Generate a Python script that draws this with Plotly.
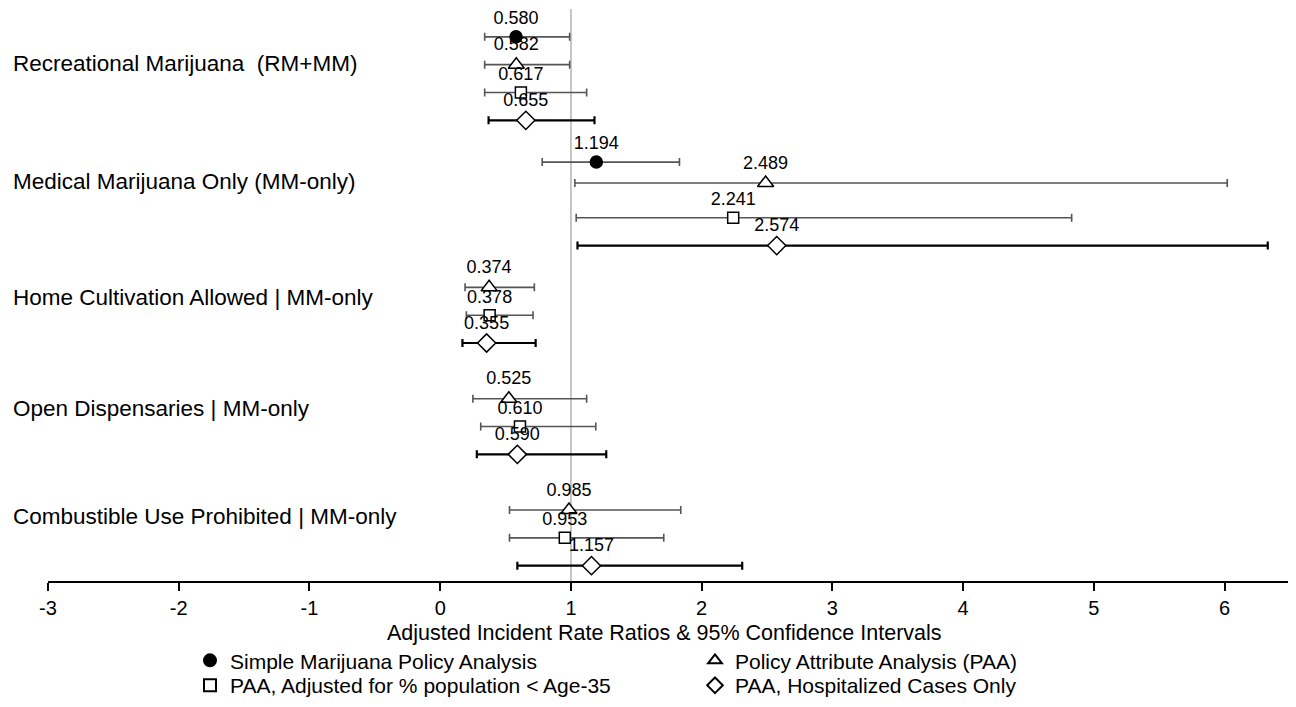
import plotly.graph_objects as go

# ---------------- data ----------------
categories = [
    "Recreational Marijuana  (RM+MM)",
    "Medical Marijuana Only (MM-only)",
    "Home Cultivation Allowed | MM-only",
    "Open Dispensaries | MM-only",
    "Combustible Use Prohibited | MM-only",
]
series_names = [
    "Simple Marijuana Policy Analysis",
    "Policy Attribute Analysis (PAA)",
    "PAA, Adjusted for % population < Age-35",
    "PAA, Hospitalized Cases Only",
]

# Simple Marijuana Policy Analysis (only first two categories)
simple_est = [0.580, 1.194]
simple_lo = [0.34, 0.78]
simple_hi = [0.99, 1.83]

# Policy Attribute Analysis (PAA)
paa_est = [0.582, 2.489, 0.374, 0.525, 0.985]
paa_lo = [0.34, 1.03, 0.19, 0.25, 0.53]
paa_hi = [0.99, 6.02, 0.72, 1.12, 1.84]

# PAA, adjusted for % population < Age-35
age_est = [0.617, 2.241, 0.378, 0.610, 0.953]
age_lo = [0.34, 1.04, 0.20, 0.31, 0.53]
age_hi = [1.12, 4.83, 0.71, 1.19, 1.71]

# PAA, hospitalized cases only
hosp_est = [0.655, 2.574, 0.355, 0.590, 1.157]
hosp_lo = [0.37, 1.05, 0.17, 0.28, 0.59]
hosp_hi = [1.18, 6.33, 0.73, 1.27, 2.31]

x_ticks = [-3, -2, -1, 0, 1, 2, 3, 4, 5, 6]
x_tick_labels = ["-3", "-2", "-1", "0", "1", "2", "3", "4", "5", "6"]

# ---------------- layout of rows (vertical slots, top -> bottom) ----------------
simple_rows = [0, 4.5]
paa_rows = [1, 5.25, 9, 13, 17]
age_rows = [2, 6.5, 10, 14, 18]
hosp_rows = [3, 7.5, 11, 15, 19]
category_rows = [0.95, 5.2, 9.35, 13.35, 17.25]

FONT = "Liberation Sans, Arial, Helvetica, sans-serif"

# the page body has an 8px margin, so the figure is placed at (8, 8)
OFF = 8
W, H = 1296 - OFF, 707 - OFF
ML = 48 - OFF
MT = 9 - OFF
MR = W - (1290 - OFF)
MB = H - (583 - OFF)
PW, PH = W - ML - MR, H - MT - MB


def px_x(p):  # page pixel -> paper fraction
    return (p - OFF - ML) / PW


def px_y(p):
    return (H - MB - (p - OFF)) / PH


fig = go.Figure()


def add_series(est, lo, hi, rows, name, symbol, size, fill, bar_color, bar_w, legend):
    fig.add_trace(go.Scatter(
        x=est, y=rows, mode="markers+text", name=name,
        text=[f"{v:.3f}" for v in est], textposition="top center",
        textfont=dict(family=FONT, size=18, color="black"),
        marker=dict(symbol=symbol, size=size, color=fill,
                    line=dict(color="black", width=1.5)),
        error_x=dict(type="data", symmetric=False,
                     array=[h - e for h, e in zip(hi, est)],
                     arrayminus=[e - l for e, l in zip(est, lo)],
                     color=bar_color, thickness=bar_w, width=4),
        legend=legend, cliponaxis=False,
    ))


add_series(simple_est, simple_lo, simple_hi, simple_rows, series_names[0],
           "circle", 12, "black", "#555555", 1.6, "legend")
add_series(paa_est, paa_lo, paa_hi, paa_rows, series_names[1],
           "triangle-up", 14, "white", "#555555", 1.6, "legend")
add_series(age_est, age_lo, age_hi, age_rows, series_names[2],
           "square", 11, "white", "#555555", 1.6, "legend2")
add_series(hosp_est, hosp_lo, hosp_hi, hosp_rows, series_names[3],
           "diamond", 14, "white", "black", 2.2, "legend2")

# reference line at IRR = 1
fig.add_shape(type="line", xref="x", yref="paper", x0=1, x1=1, y0=0, y1=1,
              line=dict(color="#b3b3b3", width=1.5), layer="below")

annotations = []
for cat, r in zip(categories, category_rows):
    annotations.append(dict(
        text=cat, xref="paper", yref="y", x=px_x(11), y=r,
        xanchor="left", yanchor="middle", showarrow=False,
        font=dict(family=FONT, size=22.5, color="black")))
annotations.append(dict(
    text="Adjusted Incident Rate Ratios & 95% Confidence Intervals",
    xref="paper", yref="paper", x=px_x(664), y=px_y(635),
    xanchor="center", yanchor="middle", showarrow=False,
    font=dict(family=FONT, size=21.5, color="black")))

legend_common = dict(orientation="h", xanchor="left", yanchor="middle",
                     entrywidth=460, entrywidthmode="pixels",
                     font=dict(family=FONT, size=21, color="black"),
                     itemsizing="constant", bgcolor="rgba(0,0,0,0)",
                     tracegroupgap=0, itemclick=False)

fig.update_layout(
    width=W, height=H,
    margin=dict(l=ML, r=MR, t=MT, b=MB),
    paper_bgcolor="white", plot_bgcolor="white",
    font=dict(family=FONT, size=22, color="black"),
    showlegend=True,
    legend=dict(x=px_x(190), y=px_y(663), **legend_common),
    legend2=dict(x=px_x(190), y=px_y(688), **legend_common),
    xaxis=dict(range=[-3, 6.5], tickvals=x_ticks, ticktext=x_tick_labels,
               showgrid=False, zeroline=False,
               showline=True, linecolor="black", linewidth=2,
               ticks="outside", ticklen=8, tickwidth=2, tickcolor="black",
               tickfont=dict(family=FONT, size=20, color="black"),
               ticklabelstandoff=0, automargin=False),
    yaxis=dict(range=[19.55, -1], visible=False),
    annotations=annotations,
)

fig.write_html("out.html")
